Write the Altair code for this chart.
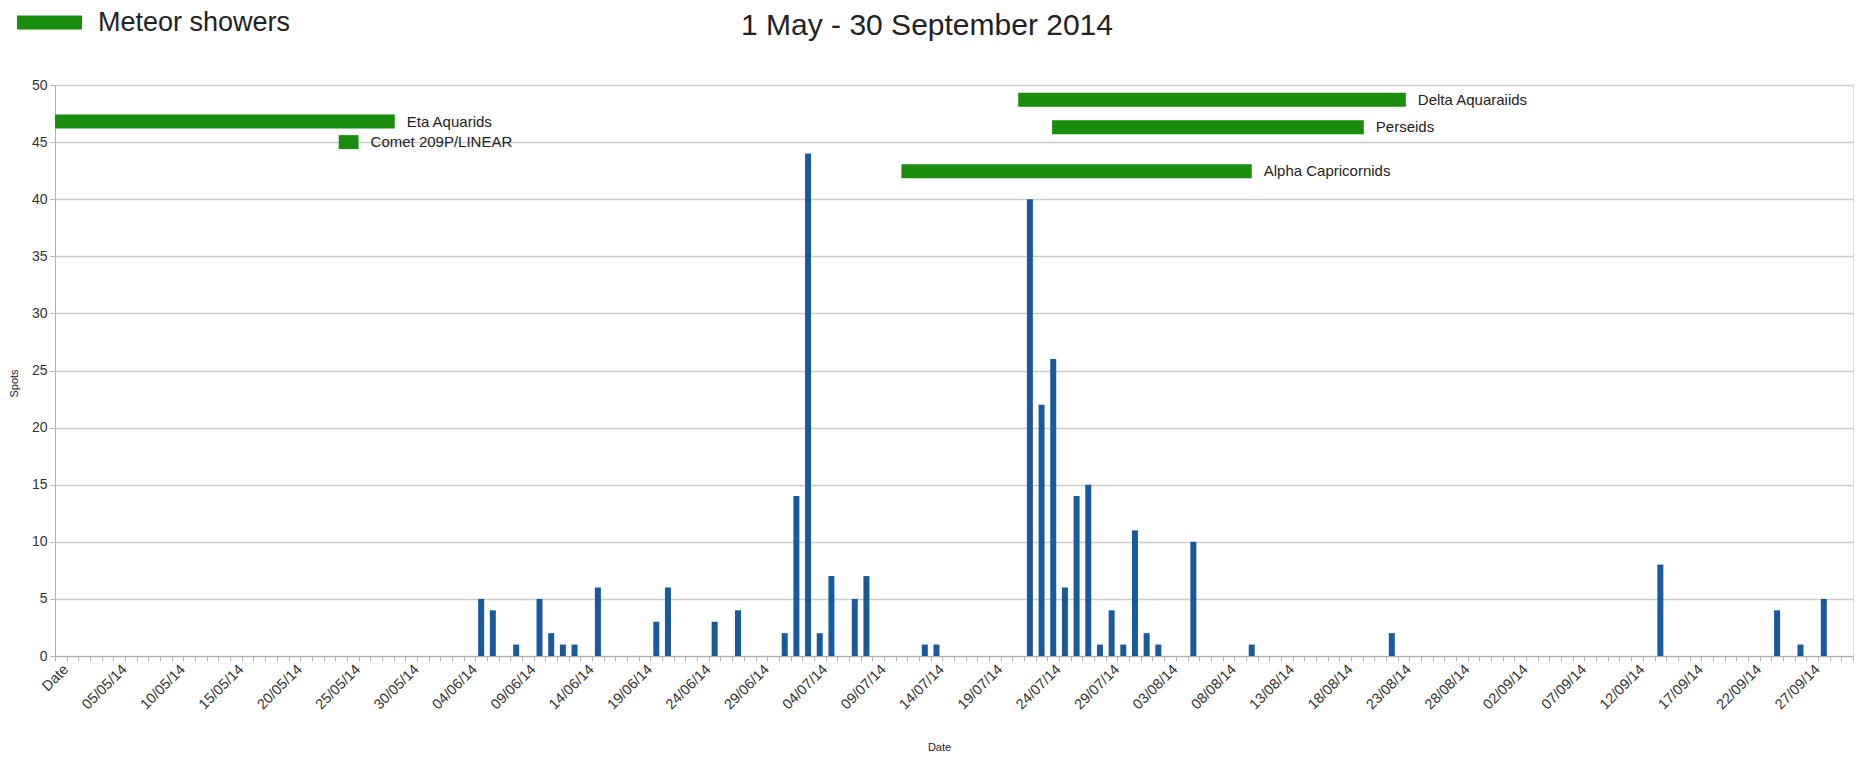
import json
import altair as alt
import pandas as pd

# ---------------- data ----------------
# x categories: index 0 = "Date", index 1 = 01/05/14 ... index 153 = 30/09/14
tick_labels = ["Date", "05/05/14", "10/05/14", "15/05/14", "20/05/14", "25/05/14",
               "30/05/14", "04/06/14", "09/06/14", "14/06/14", "19/06/14", "24/06/14",
               "29/06/14", "04/07/14", "09/07/14", "14/07/14", "19/07/14", "24/07/14",
               "29/07/14", "03/08/14", "08/08/14", "13/08/14", "18/08/14", "23/08/14",
               "28/08/14", "02/09/14", "07/09/14", "12/09/14", "17/09/14", "22/09/14",
               "27/09/14"]
n_categories = 154

spot_dates = ["05/06", "06/06", "08/06", "10/06", "11/06", "12/06", "13/06", "15/06",
              "20/06", "21/06", "25/06", "27/06", "01/07", "02/07", "03/07", "04/07",
              "05/07", "07/07", "08/07", "13/07", "14/07", "22/07", "23/07", "24/07",
              "25/07", "26/07", "27/07", "28/07", "29/07", "30/07", "31/07", "01/08",
              "02/08", "05/08", "10/08", "22/08", "14/09", "24/09", "26/09", "28/09"]
spot_values = [5, 4, 1, 5, 2, 1, 1, 6,
               3, 6, 3, 4, 2, 14, 44, 2,
               7, 5, 7, 1, 1, 40, 22, 26,
               6, 14, 15, 1, 4, 1, 11, 2,
               1, 10, 1, 2, 8, 4, 1, 5]

shower_names = ["Eta Aquarids", "Comet 209P/LINEAR", "Delta Aquaraiids", "Perseids",
                "Alpha Capricornids"]
shower_start = [0.0, 24.3, 82.5, 85.4, 72.5]      # in day units along the axis
shower_end = [29.1, 26.0, 115.7, 112.1, 102.5]
shower_level = [46.8, 45.0, 48.7, 46.3, 42.45]

# ---------------- tables ----------------
month_start = {"05": 1, "06": 32, "07": 62, "08": 93, "09": 124}


def day_index(d):
    dd, mm = d.split("/")
    return month_start[mm] + int(dd) - 1


spots = pd.DataFrame({
    "date": spot_dates,
    "pos": [day_index(d) + 0.5 for d in spot_dates],
    "spots": spot_values,
})
showers = pd.DataFrame({
    "name": shower_names,
    "start": shower_start,
    "end": shower_end,
    "level": shower_level,
    "series": ["Meteor showers"] * len(shower_names),
})

FONT = "Liberation Sans"
BLUE = "#1a5a9a"
GREEN = "#1a8c0e"
GRID = "#cccccc"
AXIS = "#b0b0b0"

label_js = json.dumps(tick_labels)
label_expr = (f"(datum.value % 5 == 0 && datum.value < {n_categories}) ? "
              f"{label_js}[datum.value / 5] : ''")

x_scale = alt.Scale(domain=[0, n_categories], nice=False, zero=False, padding=0)
y_scale = alt.Scale(domain=[0, 50], nice=False, padding=0)

x_axis = alt.Axis(
    values=list(range(n_categories + 1)),
    tickCount=400,
    labelExpr=label_expr,
    labelOffset=11,
    labelAngle=-45,
    labelAlign="right",
    labelBaseline="middle",
    labelOverlap=False,
    labelFlush=False,
    labelBound=False,
    labelPadding=6,
    labelFontSize=14.5,
    labelColor="#333333",
    labelFont=FONT,
    tickSize=5,
    tickColor=AXIS,
    domainColor=AXIS,
    grid=False,
    title="Date",
    titleFont=FONT,
    titleFontSize=11,
    titleFontWeight="normal",
    titleColor="#222222",
    titleX=884,
    titleY=91,
    titleBaseline="middle",
)
y_axis = alt.Axis(
    values=list(range(0, 51, 5)),
    tickCount=50,
    grid=True,
    gridColor=GRID,
    gridWidth=1.5,
    tickSize=5,
    tickColor=AXIS,
    domainColor=AXIS,
    labelPadding=3,
    labelFontSize=14,
    labelColor="#333333",
    labelFont=FONT,
    title="Spots",
    titleFont=FONT,
    titleFontSize=11,
    titleFontWeight="normal",
    titleColor="#222222",
    titleX=-41,
    titleY=298,
    titleBaseline="middle",
)

bars = alt.Chart(spots).mark_bar(size=6, color=BLUE).encode(
    x=alt.X("pos:Q", scale=x_scale, axis=x_axis),
    y=alt.Y("spots:Q", scale=y_scale, axis=y_axis),
)

shower_bars = alt.Chart(showers).mark_bar(size=14).encode(
    x=alt.X("start:Q", scale=x_scale),
    x2="end:Q",
    y=alt.Y("level:Q", scale=y_scale),
    color=alt.Color(
        "series:N",
        scale=alt.Scale(domain=["Meteor showers"], range=[GREEN]),
        legend=alt.Legend(
            title=None,
            orient="none",
            legendX=-38,
            legendY=-95,
            symbolType="M-1,-0.2154H1V0.2154H-1Z",
            symbolSize=4225,
            symbolFillColor=GREEN,
            symbolStrokeWidth=0,
            labelFontSize=27,
            labelFont=FONT,
            labelColor="#222222",
            labelOffset=16,
            labelLimit=400,
            padding=0,
        ),
    ),
)

shower_text = alt.Chart(showers).mark_text(
    align="left", baseline="middle", dx=12, fontSize=15, font=FONT, color="#222222"
).encode(
    x=alt.X("end:Q", scale=x_scale),
    y=alt.Y("level:Q", scale=y_scale),
    text="name:N",
)

chart = alt.layer(bars, shower_bars, shower_text).properties(
    width=1798,
    height=571,
    padding={"left": 47, "top": 77, "right": 1, "bottom": 98},
    autosize=alt.AutoSizeParams(type="none"),
    title=alt.TitleParams(
        "1 May - 30 September 2014",
        font=FONT,
        fontSize=30,
        fontWeight="normal",
        color="#222222",
        anchor="middle",
        dx=-27,
        offset=-51,
    ),
).configure_view(
    stroke=AXIS, strokeWidth=1
).configure(background="white")

chart.save("out.html", embed_options={"renderer": "svg", "actions": False})
